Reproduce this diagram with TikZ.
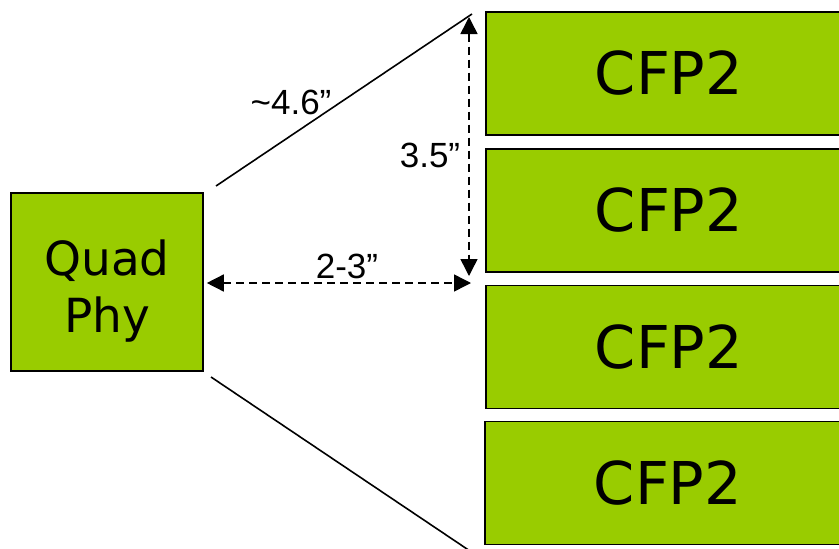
\documentclass[tikz,border=0pt]{standalone}
\usepackage{fontspec}
\usepackage{xcolor}
\usepackage{tikz}
\usetikzlibrary{arrows.meta}
\setmainfont{DejaVu Sans}
\newfontfamily\dimfont{Liberation Sans}
\definecolor{boxgreen}{HTML}{99CC00}

\tikzset{
  phybox/.style={draw, line width=1.6pt, fill=boxgreen, minimum width=192pt, minimum height=178pt,
    align=center, inner sep=0pt, font=\fontsize{47}{57}\selectfont},
  cfpbox/.style={draw, line width=1.6pt, fill=boxgreen, minimum width=366pt, minimum height=123pt,
    inner sep=0pt, font=\fontsize{59}{64}\selectfont},
  dimline/.style={dashed, dash pattern=on 8pt off 5pt, line width=1.5pt, {Triangle[length=17pt,width=17pt]}-{Triangle[length=17pt,width=17pt]}},
  dimlabel/.style={font=\dimfont\fontsize{35}{40}\selectfont, inner sep=0pt}
}

\begin{document}
\begin{tikzpicture}[x=1pt,y=-1pt]
\useasboundingbox (0,0) rectangle (839,549);

\node[phybox, text height=100pt, text depth=0pt] (phy) at (107,282) {Quad\\Phy};

\node[cfpbox] (cfp1) at (669,73.5) {CFP2};
\node[cfpbox] (cfp2) at (669,210.5) {CFP2};
\node[cfpbox] (cfp3) at (669,347) {CFP2};
\node[cfpbox] (cfp4) at (668,483) {CFP2};

\coordinate (phytop) at (216,186);
\coordinate (phybot) at (211,377);
\coordinate (fantop) at (472,14);
\coordinate (fanbot) at (470,551);
\draw[line width=1.6pt] (phytop) -- (fantop);
\draw[line width=1.6pt] (phybot) -- (fanbot);

\coordinate (vtop) at (469,17);
\coordinate (vbot) at (469,276);
\coordinate (hend) at (471,283);
\draw[dimline] (vtop) -- (vbot);
\draw[dimline] (phy.east |- hend) ++(3,0) coordinate (hstart) -- (hend);

\node[dimlabel] (diag) at (291,102) {\textasciitilde4.6”};
\node[dimlabel] (height) at (430,155) {3.5”};
\node[dimlabel] (width) at (347,266) {2-3”};

\end{tikzpicture}
\end{document}
